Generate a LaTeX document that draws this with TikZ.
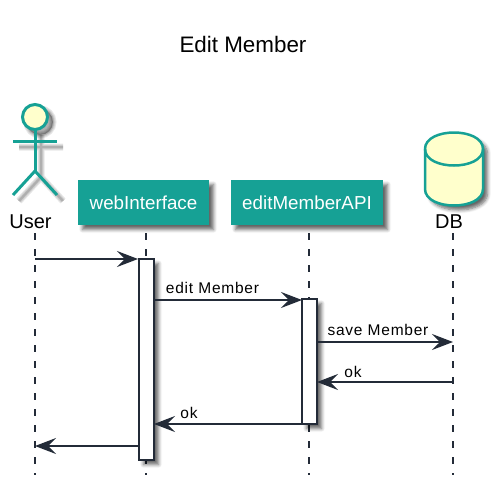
\documentclass[tikz,border=0pt]{standalone}
\usepackage{fontspec}
\setmainfont{Liberation Sans}
\usetikzlibrary{arrows.meta,shadows.blur}
\definecolor{tealbox}{HTML}{16A195}
\definecolor{lemonfill}{HTML}{FFFFCC}
\definecolor{inkline}{HTML}{232B38}
\tikzset{
  softshadow/.style={blur shadow={shadow xshift=4.5pt,shadow yshift=-4.5pt,shadow blur radius=3.5pt,shadow blur steps=6,shadow opacity=60}},
  lifeline/.style={draw=inkline,line width=1.1pt,dash pattern=on 7pt off 9pt},
  message/.style={draw=inkline,line width=1.4pt,-{Stealth[length=21pt,width=16pt,inset=8pt,fill=inkline]}},
  msgtext/.style={inner sep=0pt,text=black,font=\fontsize{15.5}{18}\selectfont\addfontfeature{LetterSpace=5}},
  partbox/.style={fill=tealbox,text=white,minimum height=45pt,inner sep=0pt,softshadow,font=\fontsize{18.8}{22}\selectfont},
  activebox/.style={draw=inkline,line width=1.2pt,fill=white,softshadow},
  partname/.style={inner sep=0pt,text=black,font=\fontsize{20}{24}\selectfont},
  actorline/.style={draw=tealbox,line width=3pt},
  actorshade/.style={draw=black,line width=#1,opacity=.09},
}
\begin{document}
\begin{tikzpicture}[x=1pt,y=-1pt]
\useasboundingbox (0,0) rectangle (491,483);
\node[inner sep=0pt,font=\fontsize{22.4}{26}\selectfont] (title) at (243,44) {Edit Member};
% lifelines
\coordinate (userTop) at (35,233);
\coordinate (userEnd) at (35,475);
\coordinate (webTop) at (146,233);
\coordinate (webEnd) at (146,475);
\coordinate (apiTop) at (309,233);
\coordinate (apiEnd) at (309,475);
\coordinate (dbTop) at (453,233);
\coordinate (dbEnd) at (453,475);
\draw[lifeline] (userTop) -- (userEnd);
\draw[lifeline] (webTop) -- (webEnd);
\draw[lifeline] (apiTop) -- (apiEnd);
\draw[lifeline] (dbTop) -- (dbEnd);
% actor
\foreach \shadeW in {7pt,5pt,3pt,2pt}{
  \draw[actorshade=\shadeW] (19,147) -- (63,147) (41,135) -- (41,177) (19,201) -- (41,177) -- (63,201);
  \draw[actorshade=\shadeW,fill=black,fill opacity=.09] (40,122) circle (13);
}
\draw[actorline] (13,141.5) -- (57,141.5);
\draw[actorline] (35,130) -- (35,171) coordinate (hip);
\draw[actorline] (13,195) -- (hip) -- (57,195);
\draw[actorline,fill=lemonfill] (35,117) circle (12.5);
\node[partname] (user) at (30.5,222) {User};
% boxes
\node[partbox,minimum width=131pt] (web) at (143.5,202.5) {\raisebox{-1pt}{webInterface}};
\node[partbox,minimum width=152pt] (api) at (307,202.5) {\raisebox{-1pt}{editMemberAPI}};
% database
\path[draw=tealbox,line width=2.5pt,fill=lemonfill,softshadow] (425,149) .. controls (425,127) and (483,127) .. (483,149) -- (483,189) .. controls (483,211) and (425,211) .. (425,189) -- cycle;
\draw[draw=tealbox,line width=2.5pt] (425,149) .. controls (425,171) and (483,171) .. (483,149);
\node[partname] (db) at (449,222) {DB};
% activations
\node[activebox,inner sep=0pt,minimum width=15pt,minimum height=201pt] (webBar) at (146.5,359.5) {};
\node[activebox,inner sep=0pt,minimum width=15pt,minimum height=125pt] (apiBar) at (309.5,361.5) {};
% messages
\coordinate (userA) at (35,259);
\coordinate (webA) at (138,259);
\coordinate (webB) at (154,300);
\coordinate (apiB) at (302,300);
\coordinate (apiC) at (317,342);
\coordinate (dbC) at (453,342);
\coordinate (dbD) at (453,382);
\coordinate (apiD) at (317,382);
\coordinate (apiE) at (302,424);
\coordinate (webE) at (154,424);
\coordinate (webF) at (139,446);
\coordinate (userF) at (35,446);
\draw[message] (userA) -- (webA);
\draw[message] (webB) -- (apiB);
\draw[message] (apiC) -- (dbC);
\draw[message] (dbD) -- (apiD);
\draw[message] (apiE) -- (webE);
\draw[message] (webF) -- (userF);
\node[msgtext] (editLabel) at (212.5,288) {edit Member};
\node[msgtext] (saveLabel) at (378,330) {save Member};
\node[msgtext] (okApi) at (353,372) {ok};
\node[msgtext] (okWeb) at (189,413) {ok};
\end{tikzpicture}
\end{document}
